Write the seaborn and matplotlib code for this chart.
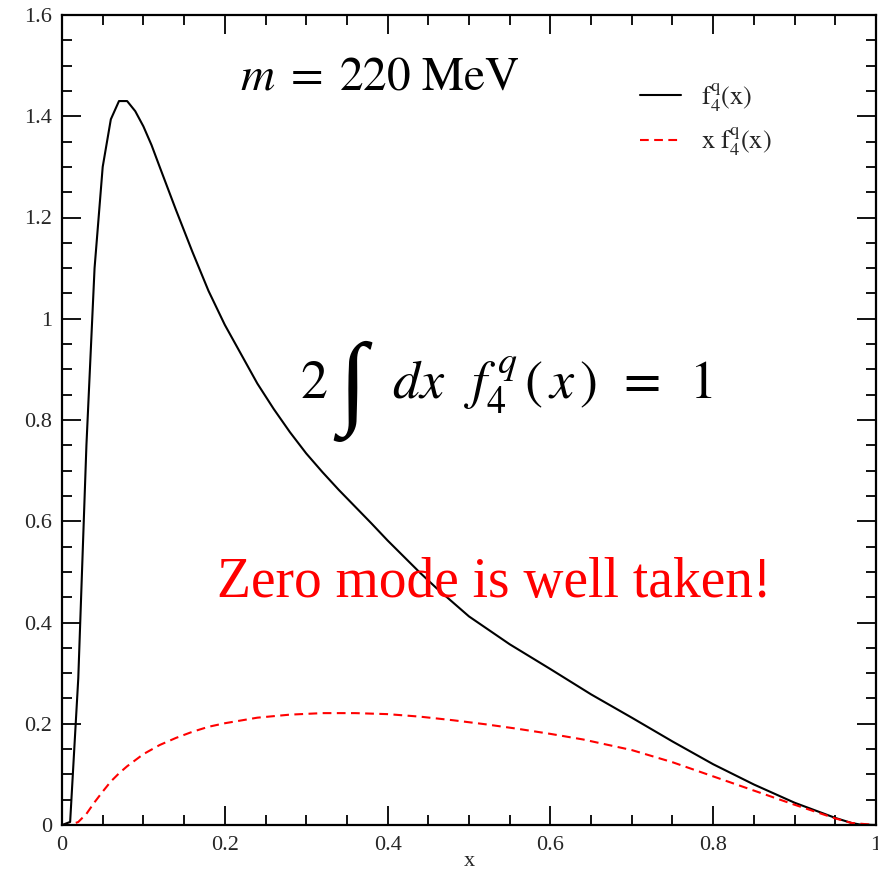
import numpy as np
import pandas as pd
import matplotlib
matplotlib.use("Agg")
import matplotlib.pyplot as plt
import seaborn as sns
from matplotlib.ticker import MultipleLocator, FuncFormatter

# ---- data ----
x_f = [0.00, 0.01, 0.02, 0.03, 0.04, 0.05, 0.06, 0.07, 0.08, 0.09, 0.10,
       0.11, 0.12, 0.14, 0.16, 0.18, 0.20, 0.22, 0.24, 0.26, 0.28, 0.30,
       0.32, 0.34, 0.36, 0.38, 0.40, 0.42, 0.44, 0.46, 0.48, 0.50,
       0.55, 0.60, 0.65, 0.70, 0.75, 0.80, 0.85, 0.90, 0.95, 0.97, 0.98, 1.00]
f4q = [0.000, 0.006, 0.290, 0.750, 1.100, 1.300, 1.394, 1.430, 1.430, 1.410, 1.380,
       1.343, 1.300, 1.215, 1.133, 1.055, 0.988, 0.930, 0.872, 0.822, 0.776, 0.734,
       0.697, 0.662, 0.629, 0.596, 0.562, 0.530, 0.498, 0.468, 0.440, 0.412,
       0.357, 0.308, 0.258, 0.212, 0.165, 0.120, 0.080, 0.044, 0.014, 0.004, 0.001, 0.000]

x_xf = [0.00, 0.01, 0.02, 0.03, 0.04, 0.05, 0.06, 0.07, 0.08, 0.09, 0.10,
        0.12, 0.14, 0.16, 0.18, 0.20, 0.24, 0.28, 0.32, 0.36, 0.40,
        0.44, 0.48, 0.52, 0.56, 0.60, 0.64, 0.70, 0.75, 0.80, 0.85,
        0.90, 0.95, 0.97, 1.00]
xf4q = [0.000, 0.000, 0.006, 0.022, 0.045, 0.066, 0.086, 0.102, 0.116, 0.128, 0.140,
        0.158, 0.172, 0.184, 0.194, 0.201, 0.212, 0.218, 0.221, 0.221, 0.219,
        0.214, 0.207, 0.199, 0.190, 0.180, 0.169, 0.148, 0.124, 0.096, 0.068,
        0.040, 0.013, 0.004, 0.000]

label_f = r'$\mathrm{f}_{4}^{\mathrm{q}}\mathrm{(x)}$'
label_xf = r'$\mathrm{x\ f}_{4}^{\mathrm{q}}\mathrm{(x)}$'
mass_text = r'$m\;=\;220\ \mathrm{MeV}$'
int_two = r'$2$'
int_sign = '\u222b'
int_rest = r'$dx\;\;\, f_{4}^{\,q}\,(\,x\,)\;\,=\;\;1$'
note_text = 'Zero mode is well taken!'

x_ticks = [0, 0.2, 0.4, 0.6, 0.8, 1.0]
y_ticks = [0, 0.2, 0.4, 0.6, 0.8, 1.0, 1.2, 1.4, 1.6]

df_f = pd.DataFrame({'x': x_f, 'y': f4q})
df_xf = pd.DataFrame({'x': x_xf, 'y': xf4q})

sns.set_theme(style='white')
plt.rcParams['font.family'] = ['Liberation Serif', 'DejaVu Serif']
plt.rcParams['mathtext.fontset'] = 'stix'

fig = plt.figure(figsize=(8.79, 8.73), dpi=100)
ax = fig.add_axes([62/879, 1-825/873, (876-62)/879, (825-15)/873])

sns.lineplot(data=df_f, x='x', y='y', ax=ax, color='black', lw=1.5,
             label=label_f, estimator=None, sort=False)
sns.lineplot(data=df_xf, x='x', y='y', ax=ax, color='red', lw=1.5,
             label=label_xf, estimator=None, sort=False)
ax.lines[1].set_dashes([4.2, 2.6])

ax.set_xlim(0, 1)
ax.set_ylim(0, 1.6)
ax.set_xticks(x_ticks)
ax.set_yticks(y_ticks)
fmt = FuncFormatter(lambda v, p: f'{v:g}')
ax.xaxis.set_major_formatter(fmt)
ax.yaxis.set_major_formatter(fmt)
ax.xaxis.set_minor_locator(MultipleLocator(0.05))
ax.yaxis.set_minor_locator(MultipleLocator(0.05))
ax.tick_params(which='both', direction='in', top=True, right=True,
               bottom=True, left=True, color='black', width=1.3)
ax.tick_params(which='major', length=14, labelsize=16)
ax.tick_params(axis='x', which='major', pad=8)
ax.tick_params(axis='y', which='major', pad=7)
ax.tick_params(which='minor', length=7)
for s in ax.spines.values():
    s.set_color('black')
    s.set_linewidth(1.6)
ax.set_xlabel('x', fontsize=16, labelpad=-2)
ax.set_ylabel('')

ax.legend(loc='upper left', bbox_to_anchor=(0.71, 0.918), frameon=False,
          borderpad=0, borderaxespad=0,
          fontsize=19, handlelength=1.55, handletextpad=0.75, labelspacing=0.45)

ax.text(0.219, 1.476, mass_text, fontsize=34, ha='left', va='center', color='black')
ax.text(0.292, 0.869, int_two, fontsize=39, ha='left', va='center', color='black')
ax.text(0.340, 0.857, int_sign, fontsize=74, ha='left', va='center', color='black',
        family=['Liberation Serif', 'DejaVu Sans'])
ax.text(0.405, 0.869, int_rest, fontsize=39, ha='left', va='center', color='black')
ax.text(0.191, 0.478, note_text, fontsize=40, ha='left', va='center', color='red')

fig.savefig('out.png', dpi=100)
